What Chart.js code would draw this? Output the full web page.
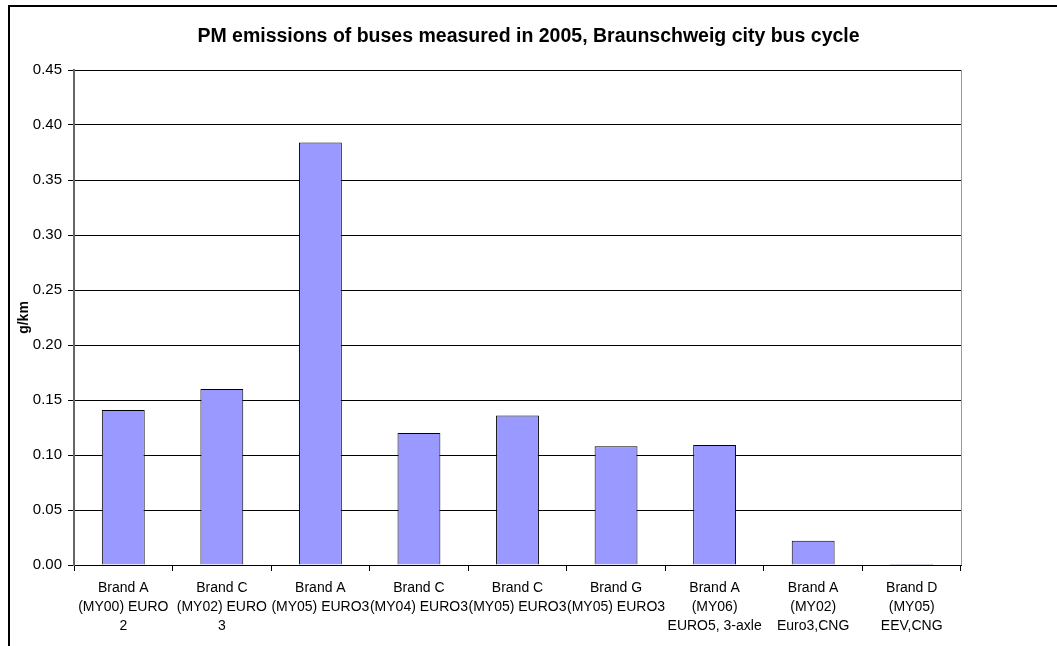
<!DOCTYPE html>
<html>
<head>
<meta charset="utf-8">
<title>PM emissions of buses</title>
<script src="https://cdn.jsdelivr.net/npm/chart.js@4/dist/chart.umd.min.js"></script>
<style>
  html, body { margin: 0; padding: 0; background: #fff; }
  #wrap { width: 1057px; height: 646px; }
</style>
</head>
<body>
<div id="wrap"><canvas id="pmChart"></canvas></div>
<script>
// bus labels, one array entry per printed line
var buses = [
  ["Brand A", "(MY00) EURO", "2"],
  ["Brand C", "(MY02) EURO", "3"],
  ["Brand A", "(MY05) EURO3"],
  ["Brand C", "(MY04) EURO3"],
  ["Brand C", "(MY05) EURO3"],
  ["Brand G", "(MY05) EURO3"],
  ["Brand A", "(MY06)", "EURO5, 3-axle"],
  ["Brand A", "(MY02)", "Euro3,CNG"],
  ["Brand D", "(MY05)", "EEV,CNG"]
];
// PM in g/km
var pmValues = [0.141, 0.160, 0.384, 0.120, 0.136, 0.108, 0.109, 0.022, 0.001];
var yMax = 0.45;
var yStep = 0.05;
var chartTitle = 'PM emissions of buses measured in 2005, Braunschweig city bus cycle';

var FONT = "'Liberation Sans', Arial, sans-serif";

// title centred on the whole canvas (the built-in one centres on the padded box),
// frame around the chart and the grey line closing the plot on the right
var framePlugin = {
  id: 'frame',
  afterDraw: function (chart) {
    var c = chart.ctx, a = chart.chartArea;
    c.save();
    c.fillStyle = '#000';
    c.font = 'bold 19.5px ' + FONT;
    c.textAlign = 'center';
    c.textBaseline = 'middle';
    c.fillText(chartTitle, chart.width / 2, 37);

    c.strokeStyle = '#999';
    c.lineWidth = 1;
    c.beginPath();
    c.moveTo(a.right + 0.5, a.top);
    c.lineTo(a.right + 0.5, a.bottom);
    c.stroke();
    c.strokeStyle = '#000';
    c.lineWidth = 2;
    c.strokeRect(9, 6, 1200, 800);
    c.restore();
  }
};

var ctx = document.getElementById('pmChart').getContext('2d');
var pmChart = new Chart(ctx, {
  type: 'bar',
  data: {
    labels: buses,
    datasets: [{
      data: pmValues,
      backgroundColor: '#9999ff',
      borderColor: '#000',
      borderWidth: 1,
      categoryPercentage: 1,
      barPercentage: 0.435
    }]
  },
  options: {
    responsive: true,
    maintainAspectRatio: false,
    animation: false,
    layout: { padding: { left: 0, right: 96, top: 70, bottom: 0 } },
    plugins: {
      legend: { display: false },
      tooltip: { enabled: false },
      title: { display: false }
    },
    scales: {
      x: {
        grid: {
          offset: true,
          drawOnChartArea: false,
          drawTicks: true,
          tickLength: 6,
          color: '#000'
        },
        border: { color: '#000', width: 1 },
        ticks: {
          color: '#000',
          autoSkip: false,
          maxRotation: 0,
          padding: 7,
          font: { family: FONT, size: 14, lineHeight: 1.38 }
        },
        afterFit: function (s) { s.height = 81; }
      },
      y: {
        min: 0,
        max: yMax,
        ticks: {
          stepSize: yStep,
          color: '#000',
          padding: 6,
          font: { family: FONT, size: 15 },
          callback: function (v) { return Number(v).toFixed(2); }
        },
        grid: { color: '#000', lineWidth: 1, tickLength: 6 },
        border: { color: '#666', width: 2 },
        title: {
          display: true,
          text: 'g/km',
          color: '#000',
          font: { family: FONT, size: 14, weight: 'bold' },
          padding: { top: 16, bottom: 0 }
        },
        afterFit: function (s) { s.width = 74; }
      }
    }
  },
  plugins: [framePlugin]
});
</script>
</body>
</html>
